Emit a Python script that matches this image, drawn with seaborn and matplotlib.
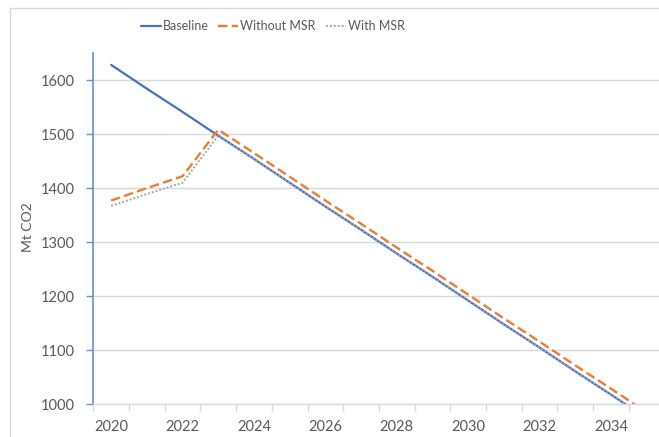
import numpy as np
import pandas as pd
import matplotlib
matplotlib.use('Agg')
import matplotlib.pyplot as plt
from matplotlib.patches import Rectangle
from matplotlib.ticker import MultipleLocator
import seaborn as sns

# values (Mt CO2)
years = list(range(2020, 2036))
baseline = [1628, 1584, 1541, 1497, 1454, 1410, 1366, 1323,
            1279, 1236, 1192, 1148, 1105, 1061, 1018, 974]
without_msr = [1377, 1400, 1422, 1508, 1465, 1421, 1377, 1334,
               1290, 1247, 1203, 1159, 1116, 1072, 1029, 985]
with_msr = [1367, 1389, 1410, 1497, 1454, 1410, 1366, 1323,
            1279, 1236, 1192, 1148, 1105, 1061, 1018, 974]
xtick_years = list(range(2020, 2036, 2))

sns.set_style('white')
plt.rcParams['font.family'] = ['Lato', 'DejaVu Sans']
txt = '#595959'
grid = '#D9D9D9'

fig = plt.figure(figsize=(6.59, 4.37), dpi=100)
W, H = 659, 437
ax = fig.add_axes([93.3 / W, 1 - 404.3 / H, (664.5 - 93.3) / W, (404.3 - 53) / H])

# chart frame (cropped on right and bottom in the reference)
fig.patches.append(Rectangle((10 / W, -0.2), 2, 1.2 - 8 / H, transform=fig.transFigure,
                             fill=False, edgecolor=grid, lw=1))

sns.lineplot(x=years, y=baseline, ax=ax, color='#4472C4', lw=1.6, label='Baseline')
sns.lineplot(x=years, y=without_msr, ax=ax, color='#ED7D31', lw=1.7,
             linestyle=(0, (4, 1.8)), label='Without MSR')
sns.lineplot(x=years, y=with_msr, ax=ax, color='#A5A5A5', lw=1.4,
             linestyle=(0, (1, 1)), label='With MSR')

ax.set_xlim(2019.5, 2035.5)
ax.set_ylim(1000, 1650)
ax.yaxis.set_major_locator(MultipleLocator(100))
ax.set_yticks(range(1000, 1601, 100))
ax.grid(axis='y', color=grid, lw=1)
ax.set_axisbelow(True)

ax.set_xticks(xtick_years)
ax.set_xticklabels([str(y) for y in xtick_years])
ax.set_xticks(np.arange(2019.5, 2035.6, 1), minor=True)
ax.tick_params(axis='x', which='major', length=0, pad=11, labelsize=10.5, labelcolor=txt)
ax.tick_params(axis='x', which='minor', length=5, width=1, color=grid, direction='out', bottom=True)
ax.tick_params(axis='y', length=5, width=1, color='#6A8FD6', direction='out', left=True,
               pad=8, labelsize=10.5, labelcolor=txt)

for s in ['top', 'right']:
    ax.spines[s].set_visible(False)
ax.spines['left'].set_color('#6A8FD6')
ax.spines['left'].set_linewidth(1.2)
ax.spines['bottom'].set_color(grid)
ax.spines['bottom'].set_linewidth(1)

ax.set_xlabel('')
ax.set_ylabel('Mt CO2', fontsize=10, color=txt)
ax.yaxis.set_label_coords(-0.104, 0.505)

ax.get_legend().remove()
handles, labels = ax.get_legend_handles_labels()
fig.legend(handles, labels, loc='center', bbox_to_anchor=(272.5 / W, 1 - 26 / H),
           ncol=3, frameon=False, fontsize=9, labelcolor=txt,
           handlelength=1.6, handletextpad=0.15, columnspacing=0.8)

fig.savefig('out.png', dpi=100)
